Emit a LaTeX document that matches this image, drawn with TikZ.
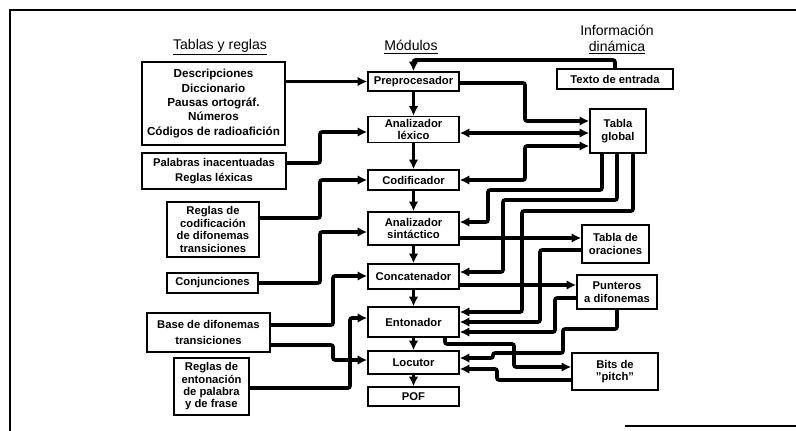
\documentclass[tikz,border=0pt]{standalone}
\usepackage{fontspec}
\setmainfont{Liberation Sans}
\usetikzlibrary{arrows.meta}
\tikzset{>={Latex[length=2.4mm,width=2.4mm]}}
\colorlet{penColor}{black}
\tikzset{
  box/.style={draw=penColor, line width=1.1pt, inner sep=1pt, align=center,
    font=\bfseries\fontsize{8}{8.8}\selectfont},
  sz/.style 2 args={minimum width=#1*0.025cm, minimum height=#2*0.025cm},
  link/.style={penColor, line width=2.6pt, rounded corners=1.5pt},
  head/.style={font=\fontsize{10}{12}\selectfont, align=center}
}

\begin{document}
\begin{tikzpicture}[x=0.025cm,y=-0.025cm]
    \useasboundingbox (0,0) rectangle (796,431);
    % marco
    \draw[line width=1pt] (796,10) -- (10,10) -- (10,431);
    \draw[line width=1pt] (625,426) -- (796,426);
    % titulos
    \node[head] (tit1) at (220,47) {\underline{Tablas y reglas}};
    \node[head] (tit2) at (411,47) {\underline{Módulos}};
    \node[head] (tit3) at (617,40) {Información\\[-1pt]\underline{dinámica}};
    % tablas y reglas
    \node[box, sz={143}{83}, font=\bfseries\fontsize{8.3}{10.3}\selectfont] (descr) at (213.5,103.5)
        {Descripciones\\Diccionario\\Pausas ortográf.\\Números\\Códigos de radioafición};
    \node[box, sz={144}{36}] (palab) at (214,171) {Palabras inacentuadas\\[2pt]Reglas léxicas};
    \node[box, sz={92}{55}] (regcod) at (213,229.5) {Reglas de\\codificación\\de difonemas\\transiciones};
    \node[box, sz={91}{20}] (conj) at (212.5,283) {Conjunciones};
    \node[box, sz={123}{39}] (base) at (208.5,332.5) {Base de difonemas\\[2pt]transiciones};
    \node[box, sz={75}{57}] (regent) at (211.5,386.5) {Reglas de\\entonación\\de palabra\\y de frase};
    % modulos
    \node[box, sz={91}{19}] (prep) at (413.5,81.5) {Preprocesador};
    \node[box, sz={91}{26}] (lex) at (413.5,129.5) {Analizador\\léxico};
    \node[box, sz={91}{20}] (codif) at (413.5,180) {Codificador};
    \node[box, sz={91}{33}] (sint) at (413.5,228.5) {Analizador\\sintáctico};
    \node[box, sz={91}{25}] (conc) at (413.5,276.5) {Concatenador};
    \node[box, sz={91}{30}] (ento) at (413.5,322) {Entonador};
    \node[box, sz={91}{23}] (locu) at (413.5,362.5) {Locutor};
    \node[box, sz={91}{19}] (pof) at (413.5,396.5) {POF};
    % informacion dinamica
    \node[box, sz={116}{20}] (texto) at (615,79) {Texto de entrada};
    \node[box, sz={56}{44}] (tglob) at (618,131) {Tabla\\global};
    \node[box, sz={67}{38}] (tora) at (615.5,244) {Tabla de\\oraciones};
    \node[box, sz={80}{34}] (punt) at (617,292) {Punteros\\a difonemas};
    \node[box, sz={86}{37}] (bits) at (615,371.5) {Bits de\\\symbol{34}pitch\symbol{34}};

    % tablas -> modulos
    \draw[link,->] (descr.east |- prep.west) -- (prep.west);
    \draw[link,->] (palab.east |- 0,163) -| (320,132) -- (lex.west |- 0,132);
    \draw[link,->] (regcod.east |- 0,218) -| (320,180) -- (codif.west);
    \draw[link,->] (conj.east) -| (320,232) -- (sint.west |- 0,232);
    \draw[link,->] (base.east |- 0,325) -| (333,276) -- (conc.west |- 0,276);
    \draw[link,->] (base.east |- 0,345) -| (333,360) -- (locu.west |- 0,360);
    \draw[link,->] (regent.east |- 0,388) -| (350,318) -- (ento.west |- 0,318);
    % cadena de modulos
    \foreach \a/\b in {prep/lex,lex/codif,codif/sint,sint/conc,conc/ento,ento/locu,locu/pof}
        \draw[link,->] (\a.south) -- (\b.north);
    % modulos <-> informacion dinamica
    \draw[link,->] (texto.north) -- (texto.north |- 0,60) -| (prep.north);
    \draw[link,->] (prep.east |- 0,83) -| (525,121) -- (tglob.west |- 0,121);
    \draw[link,<->] (lex.east |- 0,133) -- (tglob.west |- 0,133);
    \draw[link,<->] (codif.east) -| (525,146) -- (tglob.west |- 0,146);
    \draw[link,->] (tglob.south -| 602,0) |- (488,190) |- (sint.east |- 0,222);
    \draw[link,->] (tglob.south -| 617,0) |- (503,200) |- (conc.east |- 0,272);
    \draw[link,->] (tglob.south -| 633,0) |- (522,211) |- (ento.east |- 0,312);
    \draw[link,->] (sint.east |- 0,238) -- (tora.west |- 0,238);
    \draw[link,->] (tora.west |- 0,250) -| (540,322) -- (ento.east |- 0,322);
    \draw[link,->] (conc.east |- 0,285) -- (punt.west |- 0,285);
    \draw[link,->] (punt.west |- 0,298) -| (555,332) -- (ento.east |- 0,332);
    \draw[link,->] (punt.south) |- (563,329) |- (493,353) |- (locu.east |- 0,358);
    \draw[link,->] (ento.south -| 445,0) |- (514,344) |- (bits.west |- 0,367);
    \draw[link,->] (bits.west |- 0,380) -| (497,369) -- (locu.east |- 0,369);
\end{tikzpicture}
\end{document}
